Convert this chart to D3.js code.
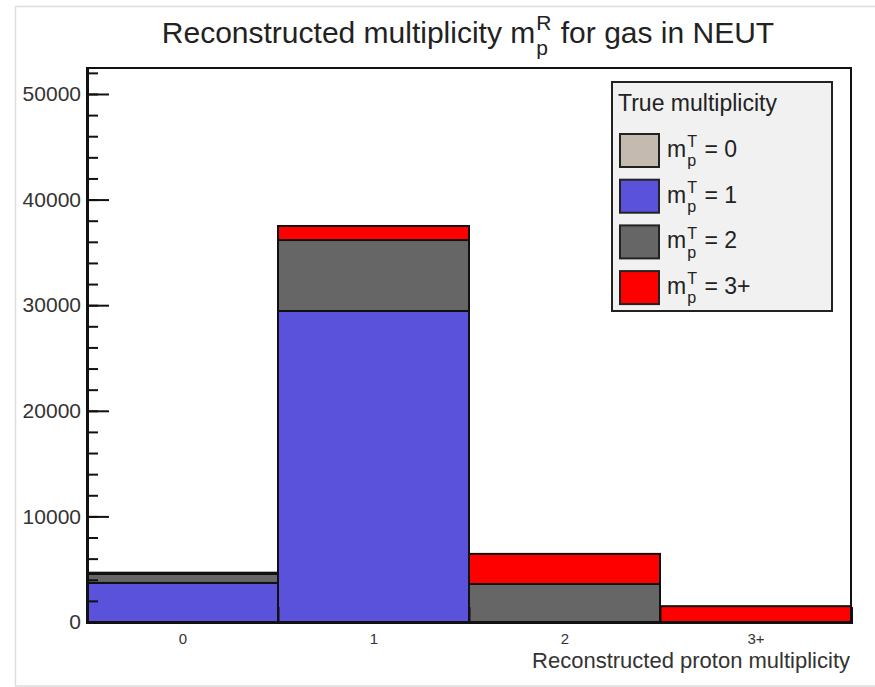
<!DOCTYPE html>
<html>
<head>
<meta charset="utf-8">
<script src="https://cdn.jsdelivr.net/npm/d3@7"></script>
<style>
body { margin:0; background:#fff; }
text { font-family: "Liberation Sans", Arial, sans-serif; white-space: pre; }
</style>
</head>
<body>
<svg id="chart" width="875" height="687"></svg>
<script>
// data
var categories = ["0", "1", "2", "3+"];
var trueM0 = [0, 0, 0, 0];
var trueM1 = [3700, 29450, 0, 0];
var trueM2 = [850, 6720, 3600, 0];
var trueM3 = [120, 1330, 2850, 1500];
var yMajor = [0, 10000, 20000, 30000, 40000, 50000];
var legendNames = ["0", "1", "2", "3+"];
var colours = ["#c4bab0", "#5a52da", "#666666", "#ff0000"];

var svg = d3.select("#chart");
var margin = {left: 87, right: 851, top: 68, bottom: 622};

// outer light border
svg.append("rect").attr("x", 15.5).attr("y", 6.5).attr("width", 880).attr("height", 679.5)
  .attr("fill", "none").attr("stroke", "#ddd").attr("stroke-width", 1.5);

var xScale = d3.scaleLinear().domain([-0.5, 3.5]).range([margin.left, margin.right]);
var yScale = d3.scaleLinear().domain([0, 52460]).range([margin.bottom, margin.top]);

var rows = categories.map(function(c, i){
  return {cat: i, m0: trueM0[i], m1: trueM1[i], m2: trueM2[i], m3: trueM3[i]};
});
var keys = ["m0", "m1", "m2", "m3"];
var stacked = d3.stack().keys(keys)(rows);

var g = svg.append("g");
stacked.forEach(function(layer, k){
  g.selectAll(".b" + k)
    .data(layer.filter(function(d){ return d[1] - d[0] > 0; }))
    .enter().append("rect")
      .attr("x", function(d){ return xScale(d.data.cat - 0.5); })
      .attr("width", function(d){ return xScale(d.data.cat + 0.5) - xScale(d.data.cat - 0.5); })
      .attr("y", function(d){ return yScale(d[1]); })
      .attr("height", function(d){ return yScale(d[0]) - yScale(d[1]); })
      .attr("fill", colours[k])
      .attr("stroke", "#111")
      .attr("stroke-width", 2);
});

// frame
svg.append("rect").attr("x", margin.left).attr("y", margin.top)
  .attr("width", margin.right - margin.left).attr("height", margin.bottom - margin.top)
  .attr("fill", "none").attr("stroke", "#111").attr("stroke-width", 2);

// y axis: minor, major, labels
var minor = d3.range(0, 52001, 2000);
svg.append("g").attr("transform", "translate(" + margin.left + ",0)")
  .call(d3.axisRight(yScale).tickValues(minor).tickSize(11).tickFormat(""))
  .call(function(a){ a.select(".domain").remove(); a.selectAll("line").attr("stroke", "#111").attr("stroke-width", 2); });
svg.append("g").attr("transform", "translate(" + margin.left + ",0)")
  .call(d3.axisRight(yScale).tickValues(yMajor).tickSize(22).tickFormat(""))
  .call(function(a){ a.select(".domain").remove(); a.selectAll("line").attr("stroke", "#111").attr("stroke-width", 2); });
svg.append("g").attr("transform", "translate(" + margin.left + ",0)")
  .call(d3.axisLeft(yScale).tickValues(yMajor).tickSize(0).tickPadding(6).tickFormat(d3.format("d")))
  .call(function(a){
    a.select(".domain").attr("stroke", "#111").attr("stroke-width", 3);
    a.selectAll("text").attr("font-size", 21).attr("fill", "#333").attr("font-family", "Liberation Sans, Arial, sans-serif");
  });

// x axis: ticks at bin edges, labels at centres
svg.append("g").attr("transform", "translate(0," + margin.bottom + ")")
  .call(d3.axisTop(xScale).tickValues([0.5, 1.5, 2.5]).tickSize(15).tickFormat(""))
  .call(function(a){ a.select(".domain").attr("stroke", "#111").attr("stroke-width", 3); a.selectAll("line").attr("stroke", "#111").attr("stroke-width", 2); });
svg.append("g").attr("transform", "translate(0," + margin.bottom + ")")
  .call(d3.axisBottom(xScale).tickValues([0, 1, 2, 3]).tickSize(0).tickPadding(11)
    .tickFormat(function(d){ return categories[d]; }))
  .call(function(a){
    a.select(".domain").remove();
    a.selectAll("text").attr("font-size", 15).attr("fill", "#333").attr("font-family", "Liberation Sans, Arial, sans-serif");
  });

svg.append("text").attr("x", 850).attr("y", 668).attr("text-anchor", "end")
  .attr("font-size", 22).attr("fill", "#333").text("Reconstructed proton multiplicity");

// text with a superscript over a subscript, like m_p^R
function mathText(parent, x, y, size, pre, sup, sub, post, anchor){
  var grp = parent.append("g");
  var t1 = grp.append("text").attr("x", 0).attr("y", 0).attr("font-size", size).attr("fill", "#222").text(pre);
  var w1 = t1.node().getComputedTextLength();
  var s1 = grp.append("text").attr("x", w1 + 1).attr("y", -size * 0.42).attr("font-size", size * 0.7).attr("fill", "#222").text(sup);
  var s2 = grp.append("text").attr("x", w1 + 1).attr("y", size * 0.4).attr("font-size", size * 0.7).attr("fill", "#222").text(sub);
  var w2 = Math.max(s1.node().getComputedTextLength(), s2.node().getComputedTextLength());
  var t2 = grp.append("text").attr("x", w1 + w2 + 2).attr("y", 0).attr("font-size", size).attr("fill", "#222").text(post);
  var total = w1 + w2 + 2 + t2.node().getComputedTextLength();
  var dx = anchor === "middle" ? x - total / 2 : x;
  grp.attr("transform", "translate(" + dx + "," + y + ")");
  return grp;
}

mathText(svg, 468, 43, 30, "Reconstructed multiplicity m", "R", "p", " for gas in NEUT", "middle");

// legend
var lg = svg.append("g");
lg.append("rect").attr("x", 612).attr("y", 82).attr("width", 220).attr("height", 229)
  .attr("fill", "#f1f1f1").attr("stroke", "#222").attr("stroke-width", 2);
lg.append("text").attr("x", 618).attr("y", 111).attr("font-size", 23).attr("fill", "#222").text("True multiplicity");
legendNames.forEach(function(n, i){
  var yy = 134 + i * 45.7;
  lg.append("rect").attr("x", 620).attr("y", yy).attr("width", 39).attr("height", 33)
    .attr("fill", colours[i]).attr("stroke", "#222").attr("stroke-width", 2);
  mathText(lg, 667, yy + 23, 23, "m", "T", "p", " = " + n, "start");
});
</script>
</body>
</html>
